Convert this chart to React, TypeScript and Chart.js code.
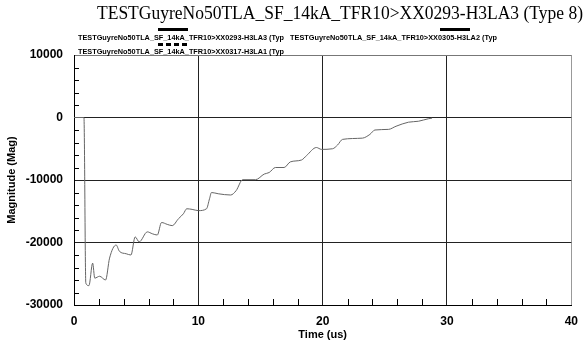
import React, { useEffect, useRef } from "react";
import { Chart, registerables } from "chart.js";
Chart.register(...registerables);

const TITLE = "TESTGuyreNo50TLA_SF_14kA_TFR10>XX0293-H3LA3 (Type 8)";
const LEGEND_LABELS = [
  "TESTGuyreNo50TLA_SF_14kA_TFR10>XX0293-H3LA3 (Typ",
  "TESTGuyreNo50TLA_SF_14kA_TFR10>XX0305-H3LA2 (Typ",
  "TESTGuyreNo50TLA_SF_14kA_TFR10>XX0317-H3LA1 (Typ",
];
const X_TITLE = "Time (us)";
const Y_TITLE = "Magnitude (Mag)";
const X_TICKS = [0, 10, 20, 30, 40];
const Y_TICKS = [10000, 0, -10000, -20000, -30000];

const TIME_US = [
  0, 0.8, 0.95, 1.2, 1.5, 1.67, 2.06, 2.54, 2.86, 3.39, 3.65, 4.2, 4.58, 4.92, 5.24, 5.9, 6.3, 6.7, 7.04,
  7.5, 7.9, 8.4, 8.8, 9.07, 9.5, 10, 10.66, 10.9, 11.06, 11.6, 12.6, 13.04, 13.57, 14.6, 15.3, 15.7,
  16.2, 16.9, 17.4, 18.3, 18.7, 19.5, 19.9, 20.8, 21.2, 21.6, 23.2, 23.8, 24.2, 25.3, 25.9, 26.9,
  27.7, 28.5, 28.8,
];
const MAGNITUDE = [
  0, 0, -26500, -26900, -23300, -25700, -25400, -26000, -22500, -20400, -21400, -21800, -22000, -19100,
  -19900, -18300, -18600, -18800, -16800, -17100, -17300, -16200, -15400, -14600, -14700, -14900, -14600,
  -13000, -12000, -12200, -12400, -11700, -9950, -9950, -9050, -8800, -8000, -8000, -7100, -6800, -6100,
  -4800, -5100, -5000, -4400, -3500, -3300, -2700, -2000, -1900, -1400, -750, -600, -200, -100,
];

const FONT = "'Liberation Sans', Arial, sans-serif";

const overlay = {
  id: "overlay",
  afterDatasetsDraw(chart: any) {
    const ctx = chart.ctx as CanvasRenderingContext2D;
    const xs = chart.scales.x;
    const ys = chart.scales.y;
    const { left, right, top, bottom } = chart.chartArea;
    ctx.save();
    // minor ticks
    ctx.strokeStyle = "#000";
    ctx.lineWidth = 1;
    ctx.beginPath();
    for (let v = -30000; v <= 10000; v += 2000) {
      if (v % 10000 === 0) continue;
      const y = Math.round(ys.getPixelForValue(v)) + 0.5;
      ctx.moveTo(left, y);
      ctx.lineTo(left + 5, y);
    }
    for (let v = 0; v <= 40; v += 2) {
      if (v % 10 === 0) continue;
      const x = Math.round(xs.getPixelForValue(v)) + 0.5;
      ctx.moveTo(x, bottom);
      ctx.lineTo(x, bottom - 6);
    }
    ctx.stroke();

    // title
    ctx.fillStyle = "#000";
    ctx.textBaseline = "middle";
    ctx.textAlign = "left";
    ctx.font = "18px 'Liberation Serif', serif";
    ctx.fillText(TITLE, 97, 14, 486);

    // legend
    ctx.font = `bold 8px ${FONT}`;
    ctx.fillText(LEGEND_LABELS[0], 78, 38, 206);
    ctx.fillText(LEGEND_LABELS[1], 290, 38, 207);
    ctx.fillText(LEGEND_LABELS[2], 78, 52, 206);
    ctx.lineWidth = 3;
    ctx.beginPath();
    ctx.moveTo(158, 29.5);
    ctx.lineTo(188, 29.5);
    ctx.moveTo(440, 29.5);
    ctx.lineTo(470, 29.5);
    ctx.stroke();
    ctx.setLineDash([5, 3]);
    ctx.beginPath();
    ctx.moveTo(158, 44.5);
    ctx.lineTo(190, 44.5);
    ctx.stroke();
    ctx.setLineDash([]);

    // axis titles
    ctx.font = `bold 11px ${FONT}`;
    ctx.textAlign = "center";
    ctx.fillText(X_TITLE, (left + right) / 2, 335);
    ctx.translate(12, (top + bottom) / 2);
    ctx.rotate(-Math.PI / 2);
    ctx.fillText(Y_TITLE, 0, 0);
    ctx.restore();
  },
};

export default function App() {
  const ref = useRef<HTMLCanvasElement | null>(null);
  useEffect(() => {
    document.body.style.margin = "0";
    const canvas = ref.current!;
    const data = TIME_US.map((x, i) => ({ x, y: MAGNITUDE[i] }));
    const chart = new Chart(canvas, {
      type: "line",
      data: {
        datasets: [
          {
            label: LEGEND_LABELS[0],
            data,
            borderColor: "#666",
            borderWidth: 1,
            pointRadius: 0,
            cubicInterpolationMode: "monotone",
            fill: false,
          },
        ],
      },
      plugins: [overlay],
      options: {
        responsive: false,
        animation: false,
        layout: { padding: { top: 55, right: 9, left: 0, bottom: 0 } },
        plugins: { legend: { display: false }, title: { display: false }, tooltip: { enabled: false } },
        scales: {
          x: {
            type: "linear",
            min: 0,
            max: 40,
            afterFit: (s: any) => {
              s.height = 40;
            },
            afterBuildTicks: (s: any) => {
              s.ticks = X_TICKS.map((v) => ({ value: v }));
            },
            ticks: {
              color: "#000",
              font: { family: FONT, size: 12, weight: "bold" },
              padding: 9,
              maxRotation: 0,
            },
            grid: {
              drawTicks: false,
              color: (c: any) => (c.tick && c.tick.value === 40 ? "#999" : "#222"),
              lineWidth: 1,
            },
            border: { display: true, color: "#000", width: 1 },
          },
          y: {
            min: -30000,
            max: 10000,
            afterFit: (s: any) => {
              s.width = 74;
            },
            afterBuildTicks: (s: any) => {
              s.ticks = Y_TICKS.map((v) => ({ value: v }));
            },
            ticks: {
              color: "#000",
              font: { family: FONT, size: 12, weight: "bold" },
              padding: 11,
              callback: (v: any) => String(v),
            },
            grid: {
              drawTicks: false,
              color: (c: any) => (c.tick && c.tick.value === 10000 ? "#777" : "#222"),
              lineWidth: 1,
            },
            border: { display: true, color: "#000", width: 1 },
          },
        },
      },
    });
    return () => chart.destroy();
  }, []);
  return <canvas ref={ref} width={587} height={345} style={{ display: "block" }} />;
}
